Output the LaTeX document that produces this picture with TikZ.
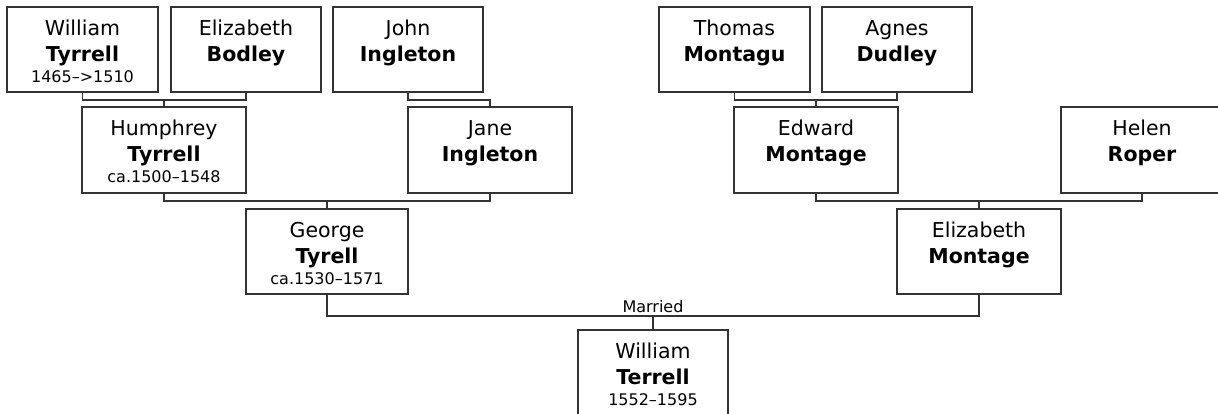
\documentclass[tikz,border=0pt]{standalone}
\usepackage{fontspec}
\setmainfont{DejaVu Sans}
\definecolor{ln}{RGB}{51,51,51}
\tikzset{
 box/.style={draw=ln, line width=1.6pt, inner sep=0pt, outer sep=0pt, anchor=north west},
 nm/.style={font=\fontsize{20.5}{24}\selectfont, anchor=base, inner sep=0pt},
 bnm/.style={font=\fontsize{20.5}{24}\selectfont\bfseries, anchor=base, inner sep=0pt},
 dt/.style={font=\fontsize{16}{19}\selectfont, anchor=base, inner sep=0pt},
 conn/.style={draw=ln, line width=1.3pt},
}
\newcommand\person[8]{%
 \node[box, minimum width=#4pt, minimum height=#5pt] (#1) at (#2,#3) {};
 \node[nm] (#1f) at ([yshift=-28pt]#1.north) {#6};
 \node[bnm] (#1l) at ([yshift=-54pt]#1.north) {#7};
 \if\relax\detokenize{#8}\relax\else
 \node[dt] (#1d) at ([yshift=-75pt]#1.north) {#8};\fi
}
\begin{document}
\begin{tikzpicture}[x=1pt,y=-1pt]
\path[use as bounding box, clip] (0,0) rectangle (1218,413);
\person{wt}{7}{7}{151}{85}{William}{Tyrrell}{1465–>1510}
\person{eb}{171}{7}{150}{85}{Elizabeth}{Bodley}{}
\person{ji}{333}{7}{150}{85}{John}{Ingleton}{}
\person{tm}{659}{7}{151}{85}{Thomas}{Montagu}{}
\person{ad}{822}{7}{150}{85}{Agnes}{Dudley}{}
\person{hum}{82}{107}{164}{86}{Humphrey}{Tyrrell}{ca.1500–1548}
\person{jane}{408}{107}{164}{86}{Jane}{Ingleton}{}
\person{edw}{734}{107}{164}{86}{Edward}{Montage}{}
\person{helen}{1061}{107}{162}{86}{Helen}{Roper}{}
\person{george}{246}{209}{162}{85}{George}{Tyrell}{ca.1530–1571}
\person{em}{897}{209}{164}{85}{Elizabeth}{Montage}{}
\person{wterr}{578}{330}{150}{85}{William}{Terrell}{1552–1595}
\coordinate (j1) at (164,100);
\coordinate (j2) at (490,100);
\coordinate (j3) at (816,100);
\coordinate (j4) at (327,201);
\coordinate (j5) at (979,201);
\coordinate (j6) at (653,316);
\draw[conn] (wt.south) |- (j1) -| (eb.south);
\draw[conn] (j1) -- (j1 |- hum.north);
\draw[conn] (ji.south) |- (j2) -- (j2 |- jane.north);
\draw[conn] (tm.south) |- (j3) -| (ad.south);
\draw[conn] (j3) -- (j3 |- edw.north);
\draw[conn] (hum.south) |- (j4) -| (jane.south);
\draw[conn] (j4) -- (j4 |- george.north);
\draw[conn] (edw.south) |- (j5) -| (helen.south);
\draw[conn] (j5) -- (j5 |- em.north);
\draw[conn] (george.south) |- (j6) -| (em.south);
\draw[conn] (j6) -- (j6 |- wterr.north);
\node[dt] (mar) at (653,312) {Married};
\end{tikzpicture}
\end{document}
